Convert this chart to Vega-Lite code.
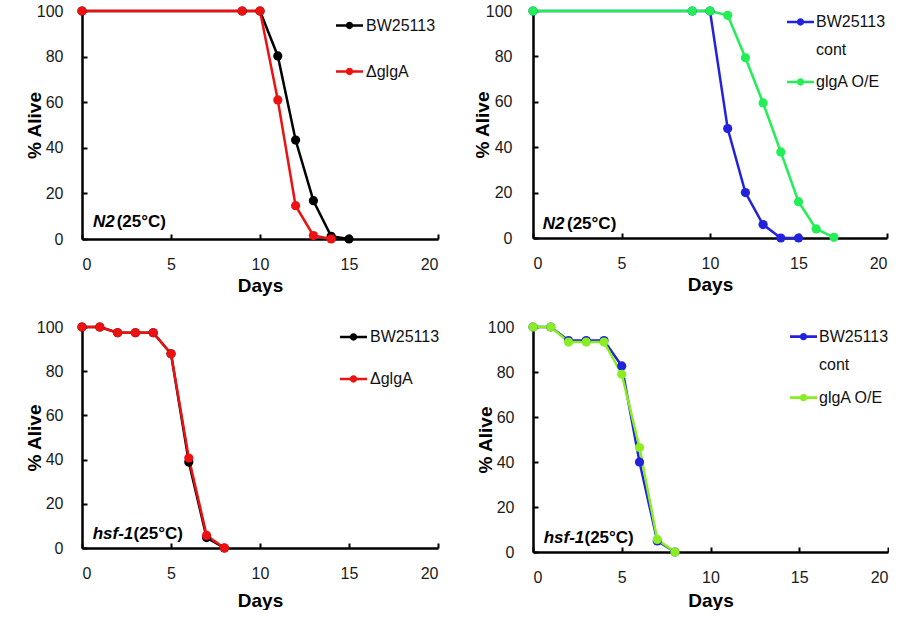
{
  "$schema": "https://vega.github.io/schema/vega-lite/v6.json",
  "background": "white",
  "padding": {"left": 25, "top": 3, "right": 0, "bottom": 0},
  "columns": 2,
  "spacing": {"row": 24, "column": 33},
  "resolve": {"scale": {"color": "independent"}, "legend": {"color": "independent"}},
  "config": {
    "font": "Liberation Sans",
    "view": {"stroke": null},
    "style": {"guide-label": {"lineHeight": 28}},
    "axis": {
      "grid": false,
      "domainColor": "#000000",
      "domainWidth": 2.5,
      "tickColor": "#000000",
      "tickWidth": 2,
      "tickSize": -5,
      "labelFont": "Liberation Sans",
      "labelFontSize": 16,
      "labelColor": "#1a1a1a",
      "titleFont": "Liberation Sans",
      "titleFontSize": 19,
      "titleFontWeight": "bold",
      "titleColor": "#000000"
    },
    "axisX": {"labelPadding": 22, "titlePadding": 4},
    "axisY": {"labelPadding": 24, "titlePadding": -8},
    "legend": {
      "orient": "none",
      "title": null,
      "symbolType": "M-1,-0.1H1V0.1H-1Z M-0.27,0A0.27,0.27 0 1,1 0.27,0A0.27,0.27 0 1,1 -0.27,0Z",
      "symbolSize": 729,
      "symbolStrokeWidth": 0,
      "labelFont": "Liberation Sans",
      "labelFontSize": 16,
      "labelColor": "#111111",
      "labelOffset": 3,
      "labelLimit": 300
    }
  },
  "concat": [
    {
      "width": 356,
      "height": 228,
      "layer": [
        {
          "data": {"values": [
            {"day": 0, "alive": 100, "strain": "BW25113"},
            {"day": 9, "alive": 100, "strain": "BW25113"},
            {"day": 10, "alive": 100, "strain": "BW25113"},
            {"day": 11, "alive": 80.3, "strain": "BW25113"},
            {"day": 12, "alive": 43.4, "strain": "BW25113"},
            {"day": 13, "alive": 16.8, "strain": "BW25113"},
            {"day": 14, "alive": 1.2, "strain": "BW25113"},
            {"day": 15, "alive": 0, "strain": "BW25113"},
            {"day": 0, "alive": 100, "strain": "ΔglgA"},
            {"day": 9, "alive": 100, "strain": "ΔglgA"},
            {"day": 10, "alive": 100, "strain": "ΔglgA"},
            {"day": 11, "alive": 61, "strain": "ΔglgA"},
            {"day": 12, "alive": 14.6, "strain": "ΔglgA"},
            {"day": 13, "alive": 1.5, "strain": "ΔglgA"},
            {"day": 14, "alive": 0, "strain": "ΔglgA"}
          ]},
          "layer": [
            {
              "mark": {"type": "line", "strokeWidth": 2.5},
              "encoding": {
                "x": {"field": "day", "type": "quantitative", "title": "Days", "scale": {"domain": [0, 20], "nice": false}, "axis": {"values": [0, 5, 10, 15, 20]}},
                "y": {"field": "alive", "type": "quantitative", "title": "% Alive", "scale": {"domain": [0, 100], "nice": false}, "axis": {"values": [0, 20, 40, 60, 80, 100]}},
                "color": {"field": "strain", "type": "nominal", "scale": {"domain": ["BW25113", "ΔglgA"], "range": ["#000000", "#ee1111"]}}
              }
            },
            {
              "mark": {"type": "point", "filled": true, "size": 85, "opacity": 1},
              "encoding": {
                "x": {"field": "day", "type": "quantitative"},
                "y": {"field": "alive", "type": "quantitative"},
                "color": {"field": "strain", "type": "nominal", "scale": {"domain": ["BW25113", "ΔglgA"], "range": ["#000000", "#ee1111"]}, "legend": {"legendX": 254, "legendY": 1, "rowPadding": 24}}
              }
            }
          ]
        },
        {
          "data": {"values": [{}]},
          "mark": {"type": "text", "fontStyle": "italic", "fontWeight": "bold", "fontSize": 17, "align": "left", "baseline": "middle", "color": "#000000"},
          "encoding": {"x": {"datum": 0.62}, "y": {"datum": 7.5}, "text": {"value": "N2"}}
        },
        {
          "data": {"values": [{}]},
          "mark": {"type": "text", "fontWeight": "bold", "fontSize": 17, "align": "left", "baseline": "middle", "color": "#000000"},
          "encoding": {"x": {"datum": 1.95}, "y": {"datum": 7.5}, "text": {"value": "(25°C)"}}
        }
      ]
    },
    {
      "width": 354,
      "height": 227,
      "layer": [
        {
          "data": {"values": [
            {"day": 0, "alive": 100, "strain": "BW25113 cont"},
            {"day": 9, "alive": 100, "strain": "BW25113 cont"},
            {"day": 10, "alive": 100, "strain": "BW25113 cont"},
            {"day": 11, "alive": 48.2, "strain": "BW25113 cont"},
            {"day": 12, "alive": 20, "strain": "BW25113 cont"},
            {"day": 13, "alive": 5.9, "strain": "BW25113 cont"},
            {"day": 14, "alive": 0, "strain": "BW25113 cont"},
            {"day": 15, "alive": 0, "strain": "BW25113 cont"},
            {"day": 0, "alive": 100, "strain": "glgA O/E"},
            {"day": 9, "alive": 100, "strain": "glgA O/E"},
            {"day": 10, "alive": 100, "strain": "glgA O/E"},
            {"day": 11, "alive": 98.1, "strain": "glgA O/E"},
            {"day": 12, "alive": 79.4, "strain": "glgA O/E"},
            {"day": 13, "alive": 59.5, "strain": "glgA O/E"},
            {"day": 14, "alive": 37.9, "strain": "glgA O/E"},
            {"day": 15, "alive": 16, "strain": "glgA O/E"},
            {"day": 16, "alive": 4, "strain": "glgA O/E"},
            {"day": 17, "alive": 0.3, "strain": "glgA O/E"}
          ]},
          "layer": [
            {
              "mark": {"type": "line", "strokeWidth": 2.5},
              "encoding": {
                "x": {"field": "day", "type": "quantitative", "title": "Days", "scale": {"domain": [0, 20], "nice": false}, "axis": {"values": [0, 5, 10, 15, 20]}},
                "y": {"field": "alive", "type": "quantitative", "title": "% Alive", "scale": {"domain": [0, 100], "nice": false}, "axis": {"values": [0, 20, 40, 60, 80, 100], "labelPadding": 26, "titlePadding": -7}},
                "color": {"field": "strain", "type": "nominal", "scale": {"domain": ["BW25113 cont", "glgA O/E"], "range": ["#2222dd", "#22ee55"]}}
              }
            },
            {
              "mark": {"type": "point", "filled": true, "size": 85, "opacity": 1},
              "encoding": {
                "x": {"field": "day", "type": "quantitative"},
                "y": {"field": "alive", "type": "quantitative"},
                "color": {"field": "strain", "type": "nominal", "scale": {"domain": ["BW25113 cont", "glgA O/E"], "range": ["#2222dd", "#22ee55"]}, "legend": {"legendX": 254, "legendY": -2.5, "rowPadding": 10, "labelOffset": 2, "labelBaseline": "middle", "labelExpr": "datum.label === 'BW25113 cont' ? ['BW25113', 'cont'] : datum.label"}}
              }
            }
          ]
        },
        {
          "data": {"values": [{}]},
          "mark": {"type": "text", "fontStyle": "italic", "fontWeight": "bold", "fontSize": 17, "align": "left", "baseline": "middle", "color": "#000000"},
          "encoding": {"x": {"datum": 0.55}, "y": {"datum": 6.3}, "text": {"value": "N2"}}
        },
        {
          "data": {"values": [{}]},
          "mark": {"type": "text", "fontWeight": "bold", "fontSize": 17, "align": "left", "baseline": "middle", "color": "#000000"},
          "encoding": {"x": {"datum": 1.92}, "y": {"datum": 6.3}, "text": {"value": "(25°C)"}}
        }
      ]
    },
    {
      "width": 356,
      "height": 221,
      "layer": [
        {
          "data": {"values": [
            {"day": 0, "alive": 100, "strain": "BW25113"},
            {"day": 1, "alive": 100, "strain": "BW25113"},
            {"day": 2, "alive": 97.4, "strain": "BW25113"},
            {"day": 3, "alive": 97.4, "strain": "BW25113"},
            {"day": 4, "alive": 97.4, "strain": "BW25113"},
            {"day": 5, "alive": 87.9, "strain": "BW25113"},
            {"day": 6, "alive": 38.9, "strain": "BW25113"},
            {"day": 7, "alive": 4.7, "strain": "BW25113"},
            {"day": 8, "alive": 0, "strain": "BW25113"},
            {"day": 0, "alive": 100, "strain": "ΔglgA"},
            {"day": 1, "alive": 100, "strain": "ΔglgA"},
            {"day": 2, "alive": 97.4, "strain": "ΔglgA"},
            {"day": 3, "alive": 97.4, "strain": "ΔglgA"},
            {"day": 4, "alive": 97.4, "strain": "ΔglgA"},
            {"day": 5, "alive": 87.9, "strain": "ΔglgA"},
            {"day": 6, "alive": 40.7, "strain": "ΔglgA"},
            {"day": 7, "alive": 5.7, "strain": "ΔglgA"},
            {"day": 8, "alive": 0, "strain": "ΔglgA"}
          ]},
          "layer": [
            {
              "mark": {"type": "line", "strokeWidth": 2.5},
              "encoding": {
                "x": {"field": "day", "type": "quantitative", "title": "Days", "scale": {"domain": [0, 20], "nice": false}, "axis": {"values": [0, 5, 10, 15, 20], "titlePadding": 10}},
                "y": {"field": "alive", "type": "quantitative", "title": "% Alive", "scale": {"domain": [0, 100], "nice": false}, "axis": {"values": [0, 20, 40, 60, 80, 100]}},
                "color": {"field": "strain", "type": "nominal", "scale": {"domain": ["BW25113", "ΔglgA"], "range": ["#000000", "#ee1111"]}}
              }
            },
            {
              "mark": {"type": "point", "filled": true, "size": 85, "opacity": 1},
              "encoding": {
                "x": {"field": "day", "type": "quantitative"},
                "y": {"field": "alive", "type": "quantitative"},
                "color": {"field": "strain", "type": "nominal", "scale": {"domain": ["BW25113", "ΔglgA"], "range": ["#000000", "#ee1111"]}, "legend": {"legendX": 258, "legendY": -3.5, "rowPadding": 20}}
              }
            }
          ]
        },
        {
          "data": {"values": [{}]},
          "mark": {"type": "text", "fontStyle": "italic", "fontWeight": "bold", "fontSize": 17, "align": "left", "baseline": "middle", "color": "#000000"},
          "encoding": {"x": {"datum": 0.6}, "y": {"datum": 6.5}, "text": {"value": "hsf-1"}}
        },
        {
          "data": {"values": [{}]},
          "mark": {"type": "text", "fontWeight": "bold", "fontSize": 17, "align": "left", "baseline": "middle", "color": "#000000"},
          "encoding": {"x": {"datum": 2.9}, "y": {"datum": 6.5}, "text": {"value": "(25°C)"}}
        }
      ]
    },
    {
      "width": 355,
      "height": 225,
      "layer": [
        {
          "data": {"values": [
            {"day": 0, "alive": 100, "strain": "BW25113 cont"},
            {"day": 1, "alive": 100, "strain": "BW25113 cont"},
            {"day": 2, "alive": 94, "strain": "BW25113 cont"},
            {"day": 3, "alive": 94, "strain": "BW25113 cont"},
            {"day": 4, "alive": 94, "strain": "BW25113 cont"},
            {"day": 5, "alive": 82.7, "strain": "BW25113 cont"},
            {"day": 6, "alive": 40, "strain": "BW25113 cont"},
            {"day": 7, "alive": 4.9, "strain": "BW25113 cont"},
            {"day": 8, "alive": 0, "strain": "BW25113 cont"},
            {"day": 0, "alive": 100, "strain": "glgA O/E"},
            {"day": 1, "alive": 100, "strain": "glgA O/E"},
            {"day": 2, "alive": 93.3, "strain": "glgA O/E"},
            {"day": 3, "alive": 93.3, "strain": "glgA O/E"},
            {"day": 4, "alive": 93.3, "strain": "glgA O/E"},
            {"day": 5, "alive": 79, "strain": "glgA O/E"},
            {"day": 6, "alive": 46.4, "strain": "glgA O/E"},
            {"day": 7, "alive": 5.6, "strain": "glgA O/E"},
            {"day": 8, "alive": 0, "strain": "glgA O/E"}
          ]},
          "layer": [
            {
              "mark": {"type": "line", "strokeWidth": 2.5},
              "encoding": {
                "x": {"field": "day", "type": "quantitative", "title": "Days", "scale": {"domain": [0, 20], "nice": false}, "axis": {"values": [0, 5, 10, 15, 20], "titlePadding": 6}},
                "y": {"field": "alive", "type": "quantitative", "title": "% Alive", "scale": {"domain": [0, 100], "nice": false}, "axis": {"values": [0, 20, 40, 60, 80, 100]}},
                "color": {"field": "strain", "type": "nominal", "scale": {"domain": ["BW25113 cont", "glgA O/E"], "range": ["#2222dd", "#88ee22"]}}
              }
            },
            {
              "mark": {"type": "point", "filled": true, "size": 85, "opacity": 1},
              "encoding": {
                "x": {"field": "day", "type": "quantitative"},
                "y": {"field": "alive", "type": "quantitative"},
                "color": {"field": "strain", "type": "nominal", "scale": {"domain": ["BW25113 cont", "glgA O/E"], "range": ["#2222dd", "#88ee22"]}, "legend": {"legendX": 257, "legendY": -3.8, "rowPadding": 11, "labelOffset": 2, "labelBaseline": "middle", "labelExpr": "datum.label === 'BW25113 cont' ? ['BW25113', 'cont'] : datum.label"}}
              }
            }
          ]
        },
        {
          "data": {"values": [{}]},
          "mark": {"type": "text", "fontStyle": "italic", "fontWeight": "bold", "fontSize": 17, "align": "left", "baseline": "middle", "color": "#000000"},
          "encoding": {"x": {"datum": 0.6}, "y": {"datum": 6.4}, "text": {"value": "hsf-1"}}
        },
        {
          "data": {"values": [{}]},
          "mark": {"type": "text", "fontWeight": "bold", "fontSize": 17, "align": "left", "baseline": "middle", "color": "#000000"},
          "encoding": {"x": {"datum": 2.9}, "y": {"datum": 6.4}, "text": {"value": "(25°C)"}}
        }
      ]
    }
  ]
}
